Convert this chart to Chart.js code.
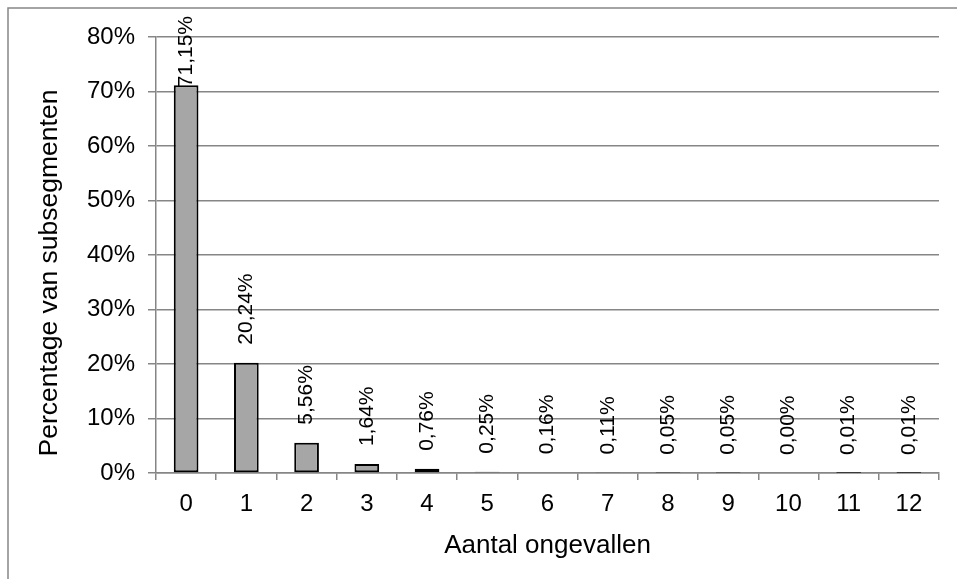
<!DOCTYPE html>
<html>
<head>
<meta charset="utf-8">
<script src="https://cdn.jsdelivr.net/npm/chart.js@4/dist/chart.umd.min.js"></script>
<style>
  html, body { margin: 0; padding: 0; background: #ffffff; }
  #wrap { width: 957px; height: 579px; position: relative; }
</style>
</head>
<body>
<div id="wrap"><canvas id="c" width="957" height="579"></canvas></div>
<script>
// Number of accidents per subsegment and the share of subsegments (%)
const categories = ['0', '1', '2', '3', '4', '5', '6', '7', '8', '9', '10', '11', '12'];
const shares = [71.15, 20.24, 5.56, 1.64, 0.76, 0.25, 0.16, 0.11, 0.05, 0.05, 0.00, 0.01, 0.01];
const yTicks = [0, 10, 20, 30, 40, 50, 60, 70, 80];
const xTitle = 'Aantal ongevallen';
const yTitle = 'Percentage van subsegmenten';

const FONT = "'Liberation Sans', Arial, sans-serif";
const GRID = '#868686';

function pct(v, digits) {
  return v.toFixed(digits).replace('.', ',') + '%';
}

// Frame around the whole chart
const framePlugin = {
  id: 'frame',
  beforeDraw(chart) {
    const ctx = chart.ctx;
    ctx.save();
    ctx.fillStyle = '#ffffff';
    ctx.fillRect(0, 0, chart.width, chart.height);
    ctx.strokeStyle = GRID;
    ctx.lineWidth = 1.5;
    ctx.strokeRect(8, 8, chart.width + 20, chart.height + 20);
    ctx.restore();
  }
};

// Vertical axis title
const yTitlePlugin = {
  id: 'yTitle',
  afterDraw(chart) {
    const ctx = chart.ctx;
    ctx.save();
    ctx.translate(50, 273);
    ctx.rotate(-Math.PI / 2);
    ctx.font = '26.5px ' + FONT;
    ctx.fillStyle = '#000000';
    ctx.textAlign = 'center';
    ctx.textBaseline = 'middle';
    ctx.fillText(yTitle, 0, 0);
    ctx.restore();
  }
};

// Rotated value labels above each bar
const valueLabelPlugin = {
  id: 'valueLabels',
  afterDatasetsDraw(chart) {
    const ctx = chart.ctx;
    const meta = chart.getDatasetMeta(0);
    const data = chart.data.datasets[0].data;
    ctx.save();
    ctx.font = '21px ' + FONT;
    ctx.fillStyle = '#000000';
    ctx.textAlign = 'left';
    ctx.textBaseline = 'middle';
    meta.data.forEach((bar, i) => {
      const text = pct(data[i], 2);
      const w = ctx.measureText(text).width;
      let start = bar.y - 18;
      if (start - w < 16) start = 16 + w;
      ctx.save();
      ctx.translate(bar.x, start);
      ctx.rotate(-Math.PI / 2);
      ctx.fillText(text, 0, 0);
      ctx.restore();
    });
    ctx.restore();
  }
};

new Chart(document.getElementById('c'), {
  type: 'bar',
  data: {
    labels: categories,
    datasets: [{
      data: shares,
      backgroundColor: '#a6a6a6',
      borderColor: '#000000',
      borderWidth: 2,
      borderSkipped: false,
      barPercentage: 0.41,
      categoryPercentage: 1.0
    }]
  },
  options: {
    responsive: false,
    animation: false,
    devicePixelRatio: 1,
    layout: { padding: { top: 37, right: 18, left: 0, bottom: 0 } },
    plugins: {
      legend: { display: false },
      tooltip: { enabled: false },
      title: { display: false }
    },
    scales: {
      x: {
        offset: true,
        grid: {
          offset: true,
          drawOnChartArea: false,
          drawTicks: true,
          tickLength: 7,
          color: GRID,
          lineWidth: 1.5
        },
        border: { display: true, color: GRID, width: 1.5 },
        ticks: {
          font: { family: FONT, size: 24 },
          color: '#000000',
          padding: 10,
          maxRotation: 0,
          autoSkip: false
        },
        title: {
          display: true,
          text: xTitle,
          font: { family: FONT, size: 26 },
          color: '#000000',
          padding: { top: 0, bottom: 18 }
        },
        afterFit(scale) { scale.height = 106; }
      },
      y: {
        min: 0,
        max: 80,
        afterBuildTicks(scale) {
          scale.ticks = yTicks.map(v => ({ value: v }));
        },
        grid: {
          drawOnChartArea: true,
          drawTicks: true,
          tickLength: 8,
          color: GRID,
          lineWidth: 1.5
        },
        border: { display: true, color: GRID, width: 1.5 },
        ticks: {
          font: { family: FONT, size: 24 },
          color: '#000000',
          padding: 13,
          callback: v => v + '%'
        },
        afterFit(scale) { scale.width = 156; }
      }
    }
  },
  plugins: [framePlugin, yTitlePlugin, valueLabelPlugin]
});
</script>
</body>
</html>
